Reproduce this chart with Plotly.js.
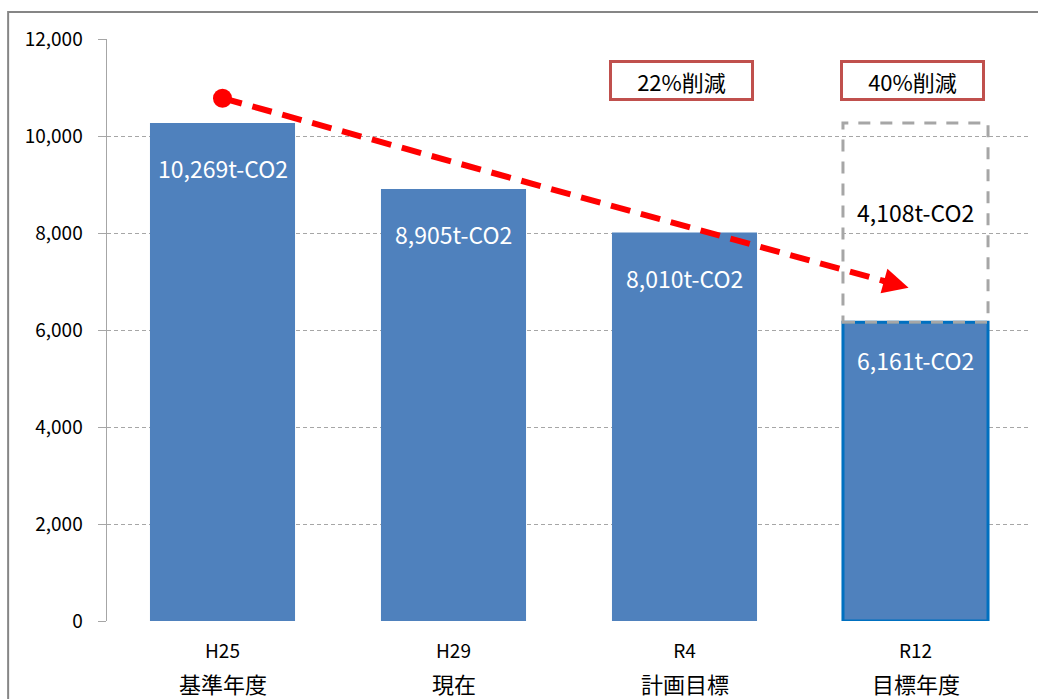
<!DOCTYPE html>
<html>
<head>
<meta charset="utf-8">
<script src="https://cdn.plot.ly/plotly-3.0.1.min.js"></script>
<style>html,body{margin:0;padding:0;background:#fff;}#chart{width:1038px;height:699px;}</style>
</head>
<body>
<div id="chart"></div>
<script>
// ---- data ----
var yearLabels = ["H25", "H29", "R4", "R12"];
var periodLabels = ["基準年度", "現在", "計画目標", "目標年度"];
var emissions = [10269, 8905, 8010, 6161];
var reductionAmount = 4108;          // gap between H25 and R12
var reductionBadges = ["22%削減", "40%削減"];
var badgeCategory = [2, 3];
var trendX = [0, 2.97];
var trendY = [10780, 6870];
var yTicks = [0, 2000, 4000, 6000, 8000, 10000, 12000];

var FONT = '"Noto Sans CJK JP", "Noto Sans", sans-serif';
var BAR = '#4F81BD';
var idx = emissions.map(function (_, i) { return i; });
var barWidth = 0.628;
var last = emissions.length - 1;

var traces = [
  {
    type: 'bar',
    x: idx,
    y: emissions,
    width: barWidth,
    marker: {
      color: BAR,
      line: {
        color: idx.map(function (i) { return i === last ? '#0070C0' : BAR; }),
        width: idx.map(function (i) { return i === last ? 3 : 0; })
      }
    },
    hoverinfo: 'skip',
    showlegend: false
  },
  {
    type: 'scatter',
    mode: 'lines',
    x: trendX,
    y: trendY,
    line: { color: '#FF0000', width: 6, dash: '20px,11px' },
    hoverinfo: 'skip',
    showlegend: false
  },
  {
    type: 'scatter',
    mode: 'markers',
    x: [trendX[0]],
    y: [trendY[0]],
    marker: { color: '#FF0000', size: 19 },
    hoverinfo: 'skip',
    showlegend: false
  }
];

var fmt = function (v) { return v.toLocaleString('en-US') + 't-CO2'; };

var annotations = emissions.map(function (v, i) {
  return {
    x: i, y: v, xref: 'x', yref: 'y',
    text: fmt(v), showarrow: false,
    yanchor: 'middle', yshift: i === last ? -38 : -45,
    font: { family: FONT, size: 23, color: '#FFFFFF' }
  };
});

annotations.push({
  x: last, y: emissions[last] + reductionAmount / 2, xref: 'x', yref: 'y',
  text: fmt(reductionAmount), showarrow: false, yanchor: 'middle', yshift: 11,
  font: { family: FONT, size: 23, color: '#000000' }
});

periodLabels.forEach(function (t, i) {
  annotations.push({
    x: i, y: 0, xref: 'x', yref: 'paper',
    text: t, showarrow: false, yanchor: 'middle', yshift: -62,
    font: { family: FONT, size: 22, color: '#000000' }
  });
});

reductionBadges.forEach(function (t, k) {
  annotations.push({
    x: badgeCategory[k] - 0.015, y: 11140, xref: 'x', yref: 'y',
    text: t, showarrow: false,
    width: 139, height: 35,
    bgcolor: '#FFFFFF', bordercolor: '#C0504D', borderwidth: 3, borderpad: 0,
    font: { family: FONT, size: 22, color: '#000000' }
  });
});

// arrow head at the end of trend line
var dx = trendX[1] - trendX[0], dy = trendY[1] - trendY[0];
annotations.push({
  x: trendX[1], y: trendY[1],
  ax: trendX[1] - dx * 0.04, ay: trendY[1] - dy * 0.04,
  xref: 'x', yref: 'y', axref: 'x', ayref: 'y',
  text: '', showarrow: true,
  arrowhead: 2, arrowsize: 0.85, arrowwidth: 6, arrowcolor: '#FF0000'
});

var shapes = [
  // outer chart frame
  {
    type: 'rect', xref: 'paper', yref: 'paper',
    x0: -0.107, x1: 1.05, y0: -0.3, y1: 1.0464,
    line: { color: '#868686', width: 2 }, layer: 'below'
  },
  // dashed outline for the reduction amount on last bar
  {
    type: 'rect', xref: 'x', yref: 'y',
    x0: last - barWidth / 2, x1: last + barWidth / 2,
    y0: emissions[last], y1: emissions[last] + reductionAmount,
    line: { color: '#A6A6A6', width: 3, dash: '12px,10px' },
    layer: 'above'
  }
];

var layout = {
  width: 1038, height: 699,
  margin: { l: 107, r: 7, t: 39, b: 78 },
  paper_bgcolor: '#FFFFFF', plot_bgcolor: '#FFFFFF',
  font: { family: FONT, color: '#000000' },
  showlegend: false,
  xaxis: {
    range: [-0.5, 3.5],
    tickmode: 'array', tickvals: idx, ticktext: yearLabels,
    tickfont: { family: FONT, size: 19, color: '#000000' },
    ticklabelstandoff: 17,
    showgrid: false, zeroline: false, showline: false, ticks: '',
    fixedrange: true
  },
  yaxis: {
    range: [0, 12000],
    tickmode: 'array', tickvals: yTicks,
    ticktext: yTicks.map(function (v) { return v.toLocaleString('en-US'); }),
    tickfont: { family: FONT, size: 19, color: '#000000' },
    showgrid: true, gridcolor: '#A6A6A6', gridwidth: 1, griddash: '4px,3px',
    zeroline: false,
    showline: true, linecolor: '#A6A6A6', linewidth: 1.5,
    ticks: 'outside', ticklen: 8, tickcolor: '#A6A6A6', tickwidth: 1,
    ticklabelstandoff: 11,
    fixedrange: true
  },
  annotations: annotations,
  shapes: shapes
};

Plotly.newPlot('chart', traces, layout, { displayModeBar: false, staticPlot: true });
</script>
</body>
</html>
